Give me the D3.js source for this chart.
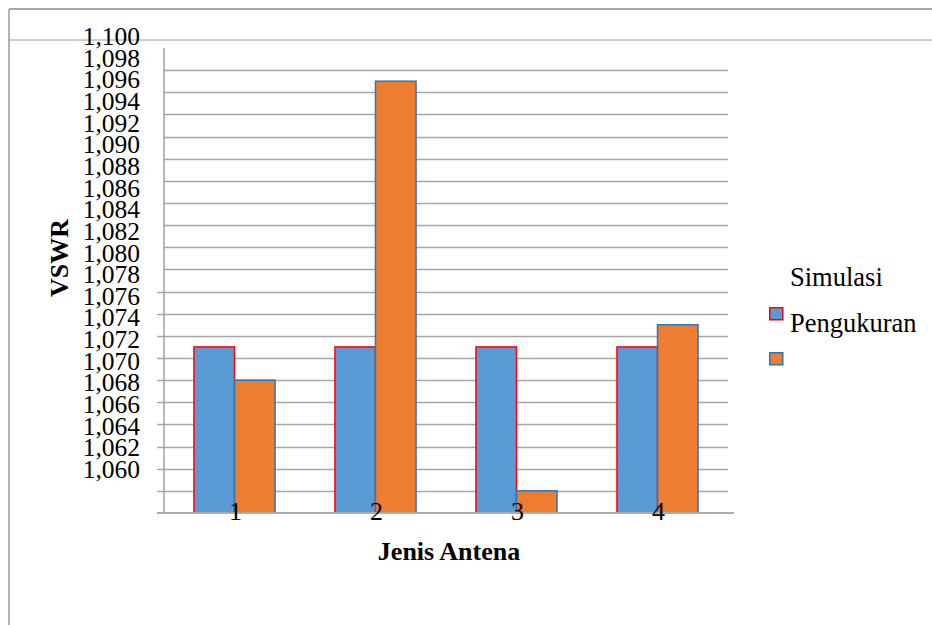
<!DOCTYPE html>
<html>
<head>
<meta charset="utf-8">
<script src="https://cdn.jsdelivr.net/npm/d3@7"></script>
<style>
  body { margin: 0; background: #fff; }
</style>
</head>
<body>
<script>
// Data
var categories = ['1', '2', '3', '4'];
var pengukuran = [1.071, 1.071, 1.071, 1.071];
var simulasi = [1.068, 1.095, 1.058, 1.073];
var legendTitle = 'Simulasi';
var legendNames = ['Pengukuran', ''];
var yTickLabels = ['1,100', '1,098', '1,096', '1,094', '1,092', '1,090', '1,088', '1,086', '1,084',
  '1,082', '1,080', '1,078', '1,076', '1,074', '1,072', '1,070', '1,068', '1,066', '1,064', '1,062', '1,060'];
var gridValues = d3.range(1.058, 1.0965, 0.002);

var FONT = 'Liberation Serif, DejaVu Serif, Times New Roman, serif';
var W = 932, H = 625;
var svg = d3.select('body').append('svg').attr('width', W).attr('height', H)
  .attr('font-family', FONT);

// Outer frame lines
svg.append('line').attr('x1', 9).attr('x2', W).attr('y1', 9).attr('y2', 9)
  .attr('stroke', '#8c8c8c').attr('stroke-width', 1.5);
svg.append('line').attr('x1', 9).attr('x2', W).attr('y1', 40).attr('y2', 40)
  .attr('stroke', '#9a9a9a').attr('stroke-width', 1);
svg.append('line').attr('x1', 9).attr('x2', 9).attr('y1', 9).attr('y2', H)
  .attr('stroke', '#9a9a9a').attr('stroke-width', 1.5);

// Scales
var y = d3.scaleLinear().domain([1.056, 1.098]).range([513, 48]);
// tick labels in the picture are spaced a bit tighter than the gridlines
var yLabel = d3.scaleLinear().domain([1.060, 1.100]).range([470, 37]);
var x0 = d3.scaleBand().domain(categories).range([164, 728]).paddingInner(0.425).paddingOuter(0.2125);
var x1 = d3.scaleBand().domain([0, 1]).range([0, x0.bandwidth()]);

// Gridlines
svg.append('g').selectAll('line')
  .data(gridValues)
  .enter()
  .append('line')
  .attr('x1', (d) => (d <= 1.0765 ? 157 : 164))
  .attr('x2', 728)
  .attr('y1', (d) => Math.round(y(d)) + 0.5)
  .attr('y2', (d) => Math.round(y(d)) + 0.5)
  .attr('stroke', '#a6a6a6')
  .attr('stroke-width', 1.3);

// Y axis line
svg.append('line').attr('x1', 164).attr('x2', 164).attr('y1', 48).attr('y2', 513)
  .attr('stroke', '#a0a0a0').attr('stroke-width', 1.5);

// Y tick labels
svg.append('g').selectAll('text')
  .data(yTickLabels)
  .enter()
  .append('text')
  .attr('x', 140)
  .attr('y', (d) => yLabel(+d.replace(',', '.')) + 8)
  .attr('text-anchor', 'end')
  .attr('font-size', 25.5)
  .attr('fill', '#000')
  .text((d) => d);

// Bars
var groups = svg.append('g').selectAll('g')
  .data(categories)
  .enter()
  .append('g')
  .attr('transform', (d) => 'translate(' + x0(d) + ',0)');

groups.append('rect')
  .attr('x', x1(0))
  .attr('y', (d, i) => y(pengukuran[i]))
  .attr('width', x1.bandwidth())
  .attr('height', (d, i) => y(1.056) - y(pengukuran[i]))
  .attr('fill', '#5b9bd5')
  .attr('stroke', '#ff0000')
  .attr('stroke-width', 1.5);

groups.append('rect')
  .attr('x', x1(1))
  .attr('y', (d, i) => y(simulasi[i]))
  .attr('width', x1.bandwidth())
  .attr('height', (d, i) => y(1.056) - y(simulasi[i]))
  .attr('fill', '#ed7d31')
  .attr('stroke', '#2e75b6')
  .attr('stroke-width', 1.5);

// Baseline
svg.append('line').attr('x1', 157).attr('x2', 734).attr('y1', 513).attr('y2', 513)
  .attr('stroke', '#aaaaaa').attr('stroke-width', 2);

// X category labels
svg.append('g').selectAll('text')
  .data(categories)
  .enter()
  .append('text')
  .attr('x', (d) => x0(d) + x0.bandwidth() / 2 + 1)
  .attr('y', 520)
  .attr('text-anchor', 'middle')
  .attr('font-size', 26)
  .attr('fill', '#000')
  .text((d) => d);

// Axis titles
svg.append('text')
  .attr('x', 449)
  .attr('y', 560)
  .attr('text-anchor', 'middle')
  .attr('font-size', 26)
  .attr('font-weight', 'bold')
  .text('Jenis Antena');

svg.append('text')
  .attr('transform', 'translate(68,258) rotate(-90)')
  .attr('text-anchor', 'middle')
  .attr('font-size', 26)
  .attr('font-weight', 'bold')
  .text('VSWR');

// Legend
var legend = svg.append('g').attr('transform', 'translate(769,0)');
legend.append('text')
  .attr('x', 21)
  .attr('y', 286)
  .attr('font-size', 26.5)
  .text(legendTitle);

var swatchFill = ['#5b9bd5', '#ed7d31'];
var swatchStroke = ['#ff0000', '#2e75b6'];
var items = legend.selectAll('.item')
  .data(legendNames)
  .enter()
  .append('g')
  .attr('class', 'item')
  .attr('transform', (d, i) => 'translate(0,' + (307 + i * 45) + ')');

items.append('rect')
  .attr('width', 13)
  .attr('height', 12)
  .attr('x', 0.75)
  .attr('y', 0.75)
  .attr('fill', (d, i) => swatchFill[i])
  .attr('stroke', (d, i) => swatchStroke[i])
  .attr('stroke-width', 1.5);

items.append('text')
  .attr('x', 21)
  .attr('y', 25)
  .attr('font-size', 26.5)
  .text((d) => d);
</script>
</body>
</html>
